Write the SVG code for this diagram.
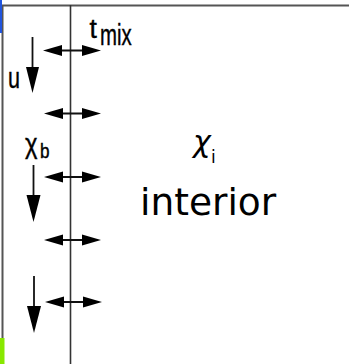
<svg xmlns="http://www.w3.org/2000/svg" width="349" height="364" viewBox="0 0 349 364">
<style>
.frame{stroke:#555;stroke-width:2;fill:none}
.mid{stroke:#333;stroke-width:1.6;fill:none}
.shaft{stroke:#111;stroke-width:1.8;fill:none}
.head{fill:#000}
.lbl{font-family:"Liberation Sans",Arial,sans-serif;fill:#000;stroke:#000;stroke-width:0.4}
.big{font-family:"DejaVu Sans",sans-serif;fill:#000}
</style>
<rect width="349" height="364" fill="#fff"/>
<g id="frame">
<line class="frame" x1="0" y1="5.5" x2="349" y2="5.5"/>
<line class="frame" x1="2.5" y1="5" x2="2.5" y2="338"/>
<rect x="0" y="0" width="2" height="33" fill="#2255dd"/>
<rect x="0" y="338" width="4.5" height="26" fill="#88e800"/>
<line class="mid" x1="70.5" y1="5" x2="70.5" y2="364"/>
</g>
<g id="connectors">
<g id="mix1"><line class="shaft" x1="55" y1="50.5" x2="90" y2="50.5"/><polygon class="head" points="43,50.5 62,45 62,56"/><polygon class="head" points="101,50.5 82,45 82,56"/></g>
<g id="mix2"><line class="shaft" x1="55" y1="113.5" x2="90" y2="113.5"/><polygon class="head" points="44,113.5 63,108 63,119"/><polygon class="head" points="101,113.5 82,108 82,119"/></g>
<g id="mix3"><line class="shaft" x1="55" y1="177" x2="90" y2="177"/><polygon class="head" points="44,177 63,171.5 63,182.5"/><polygon class="head" points="101,177 82,171.5 82,182.5"/></g>
<g id="mix4"><line class="shaft" x1="55" y1="240" x2="90" y2="240"/><polygon class="head" points="44,240 63,234.5 63,245.5"/><polygon class="head" points="101,240 82,234.5 82,245.5"/></g>
<g id="mix5"><line class="shaft" x1="55" y1="302" x2="90" y2="302"/><polygon class="head" points="45,302 64,296.5 64,307.5"/><polygon class="head" points="102,302 83,296.5 83,307.5"/></g>
<g id="down1"><line class="shaft" x1="32.5" y1="37" x2="32.5" y2="70"/><polygon class="head" points="26,67 39,67 32.5,93"/></g>
<g id="down2"><line class="shaft" x1="33.5" y1="165" x2="33.5" y2="198"/><polygon class="head" points="26.5,195 40.5,195 33.5,222"/></g>
<g id="down3"><line class="shaft" x1="34" y1="276" x2="34" y2="309"/><polygon class="head" points="27,306 41,306 34,333"/></g>
</g>
<g id="label-u"><text class="lbl" font-size="30" transform="translate(8,88) scale(0.72,1)">u</text></g>
<g id="label-tmix"><text class="lbl" font-size="28" transform="translate(89.5,38) scale(0.95,1)">t</text><text class="lbl" font-size="30" transform="translate(100,45) scale(0.68,1)">mix</text></g>
<g id="label-chib"><text class="lbl" font-size="28" transform="translate(25,153) scale(0.85,1)">χ</text><text class="lbl" font-size="19" transform="translate(40,157.5) scale(0.9,1.05)">b</text></g>
<g id="interior"><text class="big" font-size="30" font-style="italic" x="193" y="152">χ</text><text class="big" font-size="17" x="211" y="163">i</text><text class="big" font-size="37.5" x="140" y="215">interior</text></g>
</svg>
